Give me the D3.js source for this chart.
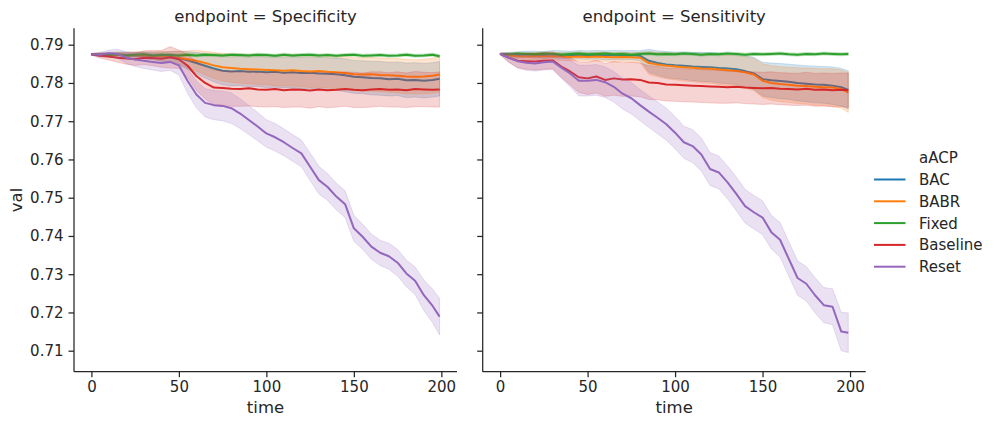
<!DOCTYPE html>
<html>
<head>
<meta charset="utf-8">
<script src="https://cdn.jsdelivr.net/npm/d3@7"></script>
<style>
  html, body { margin: 0; padding: 0; background: #fff; }
  svg { display: block; font-family: "DejaVu Sans", sans-serif; }
</style>
</head>
<body>
<svg id="chart" width="997" height="426"></svg>
<script>
// ---------------- data ----------------
const times = [0,5,10,15,20,25,30,35,40,45,50,55,60,65,70,75,80,85,90,95,100,105,110,115,120,125,130,135,140,145,150,155,160,165,170,175,180,185,190,195,199];
const panels = ["Specificity", "Sensitivity"];
const seriesNames = ["BAC", "BABR", "Fixed", "Baseline", "Reset"];
const colors = ["#1f77b4", "#ff7f0e", "#2ca02c", "#d62728", "#9467bd"];
const yTicks = [0.71, 0.72, 0.73, 0.74, 0.75, 0.76, 0.77, 0.78, 0.79];
const xTicks = [0, 50, 100, 150, 200];

// Specificity means
const specBAC = [0.7875,0.7874,0.7874,0.7873,0.7873,0.7872,0.7872,0.7871,0.7869,0.7868,0.7865,0.7859,0.7852,0.7845,0.7838,0.7832,0.7830,0.7831,0.7829,0.7830,0.7828,0.7829,0.7827,0.7828,0.7826,0.7827,0.7825,0.7824,0.7823,0.7820,0.7816,0.7815,0.7813,0.7812,0.7810,0.7811,0.7807,0.7808,0.7806,0.7808,0.7811];
const specBABR = [0.7875,0.7874,0.7873,0.7874,0.7872,0.7873,0.7872,0.7871,0.7870,0.7868,0.7866,0.7862,0.7858,0.7852,0.7846,0.7841,0.7839,0.7837,0.7836,0.7835,0.7834,0.7833,0.7832,0.7833,0.7831,0.7830,0.7831,0.7829,0.7828,0.7826,0.7823,0.7822,0.7823,0.7821,0.7820,0.7819,0.7817,0.7816,0.7817,0.7819,0.7822];
const specFixed = [0.7875,0.7874,0.7873,0.7875,0.7872,0.7874,0.7875,0.7872,0.7874,0.7873,0.7872,0.7874,0.7872,0.7874,0.7873,0.7872,0.7874,0.7873,0.7872,0.7874,0.7873,0.7871,0.7874,0.7872,0.7873,0.7874,0.7872,0.7873,0.7871,0.7873,0.7874,0.7871,0.7872,0.7873,0.7871,0.7872,0.7874,0.7871,0.7872,0.7874,0.7870];
const specBaseline = [0.7875,0.7871,0.7869,0.7866,0.7864,0.7862,0.7866,0.7865,0.7863,0.7867,0.7862,0.7845,0.7818,0.7800,0.7788,0.7787,0.7785,0.7784,0.7786,0.7783,0.7782,0.7784,0.7781,0.7783,0.7782,0.7780,0.7783,0.7781,0.7782,0.7784,0.7782,0.7781,0.7783,0.7784,0.7782,0.7783,0.7781,0.7784,0.7783,0.7782,0.7783];
const specReset = [0.7875,0.7874,0.7878,0.7876,0.7866,0.7861,0.7858,0.7855,0.7852,0.7855,0.7846,0.7805,0.7770,0.7748,0.7742,0.7740,0.7734,0.7720,0.7703,0.7686,0.7668,0.7658,0.7645,0.7630,0.7616,0.7581,0.7546,0.7528,0.7503,0.7483,0.7420,0.7398,0.7372,0.7356,0.7347,0.7330,0.7302,0.7283,0.7245,0.7217,0.7189];

// Specificity CI half-widths
const specBACci = [0.0002,0.0005,0.0006,0.0007,0.0008,0.0008,0.0009,0.0010,0.0012,0.0014,0.0018,0.0023,0.0028,0.0032,0.0035,0.0037,0.0038,0.0038,0.0039,0.0039,0.0040,0.0040,0.0040,0.0041,0.0041,0.0041,0.0042,0.0042,0.0042,0.0043,0.0043,0.0043,0.0044,0.0044,0.0044,0.0044,0.0045,0.0045,0.0045,0.0045,0.0045];
const specBABRci = [0.0002,0.0005,0.0006,0.0007,0.0008,0.0009,0.0009,0.0010,0.0012,0.0014,0.0017,0.0022,0.0027,0.0031,0.0034,0.0036,0.0037,0.0038,0.0038,0.0039,0.0039,0.0040,0.0040,0.0041,0.0041,0.0042,0.0042,0.0042,0.0043,0.0043,0.0043,0.0044,0.0044,0.0044,0.0044,0.0045,0.0045,0.0045,0.0045,0.0046,0.0046];
const specFixedci = [0.0002,0.0003,0.0003,0.0004,0.0004,0.0004,0.0004,0.0004,0.0004,0.0004,0.0004,0.0004,0.0004,0.0004,0.0004,0.0004,0.0004,0.0004,0.0004,0.0004,0.0004,0.0004,0.0004,0.0004,0.0004,0.0004,0.0004,0.0004,0.0004,0.0004,0.0004,0.0004,0.0004,0.0004,0.0004,0.0004,0.0004,0.0004,0.0004,0.0004,0.0004];
const specBaselineci = [0.0002,0.0006,0.0009,0.0012,0.0015,0.0016,0.0018,0.0020,0.0022,0.0028,0.0024,0.0030,0.0038,0.0042,0.0045,0.0045,0.0046,0.0045,0.0046,0.0045,0.0045,0.0046,0.0045,0.0046,0.0045,0.0046,0.0045,0.0046,0.0045,0.0045,0.0046,0.0045,0.0046,0.0045,0.0045,0.0046,0.0045,0.0046,0.0045,0.0045,0.0046];
const specResetci = [0.0002,0.0006,0.0008,0.0012,0.0015,0.0018,0.0020,0.0021,0.0022,0.0022,0.0025,0.0032,0.0035,0.0037,0.0038,0.0039,0.0040,0.0039,0.0038,0.0037,0.0036,0.0036,0.0035,0.0035,0.0035,0.0036,0.0036,0.0035,0.0035,0.0035,0.0034,0.0033,0.0033,0.0033,0.0034,0.0035,0.0035,0.0036,0.0040,0.0044,0.0048];

// Sensitivity means
const sensBAC = [0.7876,0.7874,0.7873,0.7875,0.7874,0.7873,0.7875,0.7874,0.7873,0.7874,0.7873,0.7874,0.7872,0.7873,0.7872,0.7873,0.7871,0.7858,0.7852,0.7848,0.7846,0.7845,0.7843,0.7842,0.7841,0.7839,0.7838,0.7836,0.7831,0.7825,0.7810,0.7807,0.7805,0.7803,0.7800,0.7798,0.7796,0.7795,0.7793,0.7789,0.7782];
const sensBABR = [0.7876,0.7872,0.7870,0.7869,0.7870,0.7869,0.7870,0.7869,0.7868,0.7869,0.7868,0.7869,0.7868,0.7867,0.7868,0.7867,0.7866,0.7852,0.7848,0.7845,0.7843,0.7841,0.7840,0.7838,0.7837,0.7835,0.7833,0.7831,0.7828,0.7822,0.7806,0.7800,0.7797,0.7795,0.7793,0.7792,0.7790,0.7789,0.7788,0.7784,0.7775];
const sensFixed = [0.7876,0.7875,0.7877,0.7876,0.7875,0.7877,0.7876,0.7874,0.7876,0.7877,0.7875,0.7876,0.7877,0.7875,0.7876,0.7874,0.7876,0.7877,0.7875,0.7876,0.7875,0.7877,0.7876,0.7874,0.7876,0.7875,0.7877,0.7876,0.7874,0.7876,0.7875,0.7876,0.7877,0.7875,0.7874,0.7876,0.7875,0.7877,0.7876,0.7875,0.7876];
const sensBaseline = [0.7876,0.7866,0.7858,0.7857,0.7856,0.7858,0.7859,0.7843,0.7830,0.7815,0.7812,0.7817,0.7808,0.7812,0.7809,0.7810,0.7808,0.7801,0.7800,0.7796,0.7795,0.7794,0.7793,0.7792,0.7791,0.7790,0.7789,0.7790,0.7788,0.7787,0.7786,0.7787,0.7785,0.7784,0.7783,0.7785,0.7782,0.7783,0.7781,0.7782,0.7781];
const sensReset = [0.7876,0.7866,0.7857,0.7853,0.7851,0.7854,0.7856,0.7840,0.7825,0.7806,0.7806,0.7808,0.7802,0.7790,0.7772,0.7760,0.7742,0.7725,0.7709,0.7692,0.7670,0.7645,0.7635,0.7613,0.7575,0.7566,0.7540,0.7510,0.7478,0.7462,0.7448,0.7410,0.7390,0.7340,0.7290,0.7275,0.7245,0.7219,0.7215,0.7150,0.7147];

// Sensitivity CI half-widths
const sensBACci = [0.0002,0.0006,0.0008,0.0008,0.0009,0.0009,0.0010,0.0010,0.0010,0.0011,0.0011,0.0011,0.0012,0.0012,0.0012,0.0012,0.0013,0.0030,0.0032,0.0034,0.0035,0.0036,0.0037,0.0038,0.0038,0.0039,0.0040,0.0040,0.0041,0.0042,0.0044,0.0045,0.0046,0.0046,0.0047,0.0047,0.0048,0.0048,0.0049,0.0049,0.0050];
const sensBABRci = [0.0002,0.0006,0.0008,0.0008,0.0009,0.0009,0.0010,0.0010,0.0010,0.0011,0.0011,0.0011,0.0012,0.0012,0.0012,0.0012,0.0013,0.0030,0.0032,0.0034,0.0035,0.0036,0.0037,0.0038,0.0038,0.0039,0.0040,0.0040,0.0041,0.0042,0.0044,0.0045,0.0046,0.0046,0.0047,0.0047,0.0048,0.0048,0.0049,0.0050,0.0052];
const sensFixedci = [0.0002,0.0003,0.0004,0.0004,0.0004,0.0004,0.0004,0.0004,0.0004,0.0004,0.0004,0.0004,0.0004,0.0004,0.0004,0.0004,0.0004,0.0004,0.0004,0.0004,0.0004,0.0004,0.0004,0.0004,0.0004,0.0004,0.0004,0.0004,0.0004,0.0004,0.0004,0.0004,0.0004,0.0004,0.0004,0.0004,0.0004,0.0004,0.0004,0.0004,0.0004];
const sensBaselineci = [0.0002,0.0012,0.0018,0.0021,0.0022,0.0022,0.0022,0.0028,0.0035,0.0040,0.0042,0.0043,0.0043,0.0044,0.0044,0.0044,0.0044,0.0044,0.0044,0.0043,0.0043,0.0043,0.0043,0.0043,0.0043,0.0043,0.0042,0.0042,0.0042,0.0042,0.0042,0.0042,0.0042,0.0042,0.0042,0.0043,0.0043,0.0043,0.0044,0.0044,0.0045];
const sensResetci = [0.0002,0.0012,0.0018,0.0020,0.0020,0.0020,0.0021,0.0028,0.0035,0.0040,0.0040,0.0040,0.0040,0.0040,0.0040,0.0041,0.0041,0.0041,0.0042,0.0042,0.0042,0.0042,0.0043,0.0043,0.0043,0.0043,0.0043,0.0044,0.0044,0.0044,0.0044,0.0044,0.0045,0.0045,0.0045,0.0045,0.0046,0.0046,0.0047,0.0050,0.0052];

const panelMeans = {
  Specificity: [specBAC, specBABR, specFixed, specBaseline, specReset],
  Sensitivity: [sensBAC, sensBABR, sensFixed, sensBaseline, sensReset]
};
const panelCI = {
  Specificity: [specBACci, specBABRci, specFixedci, specBaselineci, specResetci],
  Sensitivity: [sensBACci, sensBABRci, sensFixedci, sensBaselineci, sensResetci]
};

// ---------------- layout ----------------
const svg = d3.select("#chart");
const ink = "#262626";
const panelX = [[74, 457], [482.7, 865.7]];
const yRange = [371.7, 28.3];
const y = d3.scaleLinear().domain([0.70451, 0.79429]).range(yRange);

panels.forEach((pname, pi) => {
  const x = d3.scaleLinear().domain([-9.95, 208.95]).range(panelX[pi]);
  const g = svg.append("g");

  // series: line then band (seaborn order)
  seriesNames.forEach((sname, si) => {
    const m = panelMeans[pname][si];
    const c = panelCI[pname][si];
    const pts = times.map((t, i) => ({ t, m: m[i], lo: m[i] - c[i], hi: m[i] + c[i] }));
    const area = d3.area().x(d => x(d.t)).y0(d => y(d.lo)).y1(d => y(d.hi));
    const line = d3.line().x(d => x(d.t)).y(d => y(d.m));
    g.append("path").datum(pts).attr("d", line)
      .attr("fill", "none").attr("stroke", colors[si])
      .attr("stroke-width", 2).attr("stroke-linejoin", "round");
    g.append("path").datum(pts).attr("d", area)
      .attr("fill", colors[si]).attr("fill-opacity", 0.2)
      .attr("stroke", colors[si]).attr("stroke-opacity", 0.2).attr("stroke-width", 1);
  });

  // axes
  const xAxis = d3.axisBottom(x).tickValues(xTicks).tickSize(5.5).tickPadding(4).tickFormat(d3.format("d"));
  const yAxis = d3.axisLeft(y).tickValues(yTicks).tickSize(5.5).tickPadding(5).tickFormat(pi === 0 ? d3.format(".2f") : () => "");
  const gx = svg.append("g").attr("transform", `translate(0,${yRange[0]})`).call(xAxis);
  const gy = svg.append("g").attr("transform", `translate(${panelX[pi][0]},0)`).call(yAxis);
  [gx, gy].forEach(a => {
    a.select(".domain").attr("stroke", ink).attr("stroke-width", 1.25);
    a.selectAll(".tick line").attr("stroke", ink).attr("stroke-width", 1.25);
    a.selectAll(".tick text").attr("fill", ink).attr("font-size", "15px")
      .attr("font-family", "DejaVu Sans, sans-serif");
  });
  gx.select(".domain").attr("d", `M${panelX[pi][0]},0H${panelX[pi][1]}`);
  gy.select(".domain").attr("d", `M0,${yRange[0]}V${yRange[1]}`);

  // title
  const cx = (panelX[pi][0] + panelX[pi][1]) / 2;
  svg.append("text").attr("x", cx).attr("y", 22).attr("text-anchor", "middle")
    .attr("font-size", "16.5px").attr("fill", ink).text(`endpoint = ${pname}`);
  // x label
  svg.append("text").attr("x", cx).attr("y", 413).attr("text-anchor", "middle")
    .attr("font-size", "16.5px").attr("fill", ink).text("time");
});

// y label
svg.append("text").attr("transform", "translate(22,200) rotate(-90)")
  .attr("text-anchor", "middle").attr("font-size", "16.5px").attr("fill", ink).text("val");

// legend
const leg = svg.append("g");
leg.append("text").attr("x", 919).attr("y", 163).attr("font-size", "15px").attr("fill", ink).text("aACP");
seriesNames.forEach((s, i) => {
  const ly = 179.5 + i * 21.8;
  leg.append("line").attr("x1", 874).attr("x2", 905.5).attr("y1", ly).attr("y2", ly)
    .attr("stroke", colors[i]).attr("stroke-width", 2);
  leg.append("text").attr("x", 919).attr("y", ly + 5.5).attr("font-size", "15px").attr("fill", ink).text(s);
});
</script>
</body>
</html>
